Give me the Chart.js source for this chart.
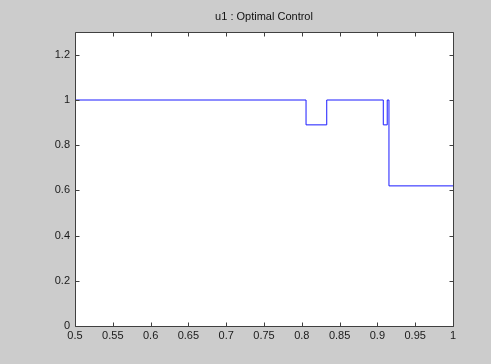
<!DOCTYPE html>
<html>
<head>
<meta charset="utf-8">
<script src="https://cdn.jsdelivr.net/npm/chart.js@4/dist/chart.umd.min.js"></script>
<style>
  html, body { margin: 0; padding: 0; background: #cccccc; }
  #wrap { width: 491px; height: 364px; }
</style>
</head>
<body>
<div id="wrap"><canvas id="c" width="491" height="364"></canvas></div>
<script>
// Control signal u1: piecewise-constant, value held until the next switching time
const switchTimes = [0.5, 0.8056, 0.833, 0.9078, 0.913, 0.9153, 1.0];
const controlValues = [1.0, 0.89, 1.0, 0.89, 1.0, 0.62, 0.62];

const xTicks = [0.5, 0.55, 0.6, 0.65, 0.7, 0.75, 0.8, 0.85, 0.9, 0.95, 1];
const xTickLabels = ['0.5', '0.55', '0.6', '0.65', '0.7', '0.75', '0.8', '0.85', '0.9', '0.95', '1'];
const yTicks = [0, 0.2, 0.4, 0.6, 0.8, 1, 1.2];
const yTickLabels = ['0', '0.2', '0.4', '0.6', '0.8', '1', '1.2'];

const points = switchTimes.map((t, i) => ({ x: t, y: controlValues[i] }));

const FONT = { family: '"Liberation Sans", Arial, sans-serif', size: 11, weight: 'normal' };

// Figure background, white axes box, full frame and inward tick marks
const axesBox = {
  id: 'axesBox',
  beforeDraw(chart) {
    const { ctx, chartArea: a } = chart;
    ctx.save();
    ctx.fillStyle = '#cccccc';
    ctx.fillRect(0, 0, chart.width, chart.height);
    ctx.fillStyle = '#ffffff';
    ctx.fillRect(a.left, a.top, a.right - a.left, a.bottom - a.top);
    ctx.restore();
  },
  afterDraw(chart) {
    const { ctx, chartArea: a, scales } = chart;
    const L = Math.round(a.left) + 0.5, R = Math.round(a.right) + 0.5;
    const T = Math.round(a.top) + 0.5, B = Math.round(a.bottom) + 0.5;
    const len = 4;
    ctx.save();
    ctx.strokeStyle = '#404040';
    ctx.lineWidth = 1;
    ctx.beginPath();
    ctx.rect(L, T, R - L, B - T);
    xTicks.forEach(v => {
      const px = Math.round(scales.x.getPixelForValue(v)) + 0.5;
      ctx.moveTo(px, B); ctx.lineTo(px, B - len);
      ctx.moveTo(px, T); ctx.lineTo(px, T + len);
    });
    yTicks.forEach(v => {
      const py = Math.round(scales.y.getPixelForValue(v)) + 0.5;
      ctx.moveTo(L, py); ctx.lineTo(L + len, py);
      ctx.moveTo(R, py); ctx.lineTo(R - len, py);
    });
    ctx.stroke();
    ctx.restore();
  }
};

new Chart(document.getElementById('c'), {
  type: 'line',
  data: {
    datasets: [{
      data: points,
      stepped: 'before',
      borderColor: '#1a1aff',
      borderWidth: 1,
      pointRadius: 0,
      fill: false
    }]
  },
  options: {
    responsive: false,
    animation: false,
    layout: { padding: { left: 0, right: 38, top: 0, bottom: 0 } },
    plugins: {
      legend: { display: false },
      tooltip: { enabled: false },
      title: {
        display: true,
        fullSize: false,
        text: 'u1 : Optimal Control',
        color: '#111111',
        font: FONT,
        padding: { top: 10, bottom: 9 }
      }
    },
    scales: {
      x: {
        type: 'linear',
        min: 0.5,
        max: 1,
        afterBuildTicks: s => { s.ticks = xTicks.map(v => ({ value: v })); },
        afterFit: s => { s.height = 38; },
        ticks: {
          autoSkip: false,
          maxRotation: 0,
          padding: 3,
          color: '#1a1a1a',
          font: FONT,
          callback: (v) => xTickLabels[xTicks.findIndex(t => Math.abs(t - v) < 1e-9)]
        },
        grid: { display: false, drawTicks: false },
        border: { display: false }
      },
      y: {
        type: 'linear',
        min: 0,
        max: 1.3,
        afterBuildTicks: s => { s.ticks = yTicks.map(v => ({ value: v })); },
        afterFit: s => { s.width = 75; },
        ticks: {
          autoSkip: false,
          padding: 5,
          color: '#1a1a1a',
          font: FONT,
          callback: (v) => yTickLabels[yTicks.findIndex(t => Math.abs(t - v) < 1e-9)]
        },
        grid: { display: false, drawTicks: false },
        border: { display: false }
      }
    }
  },
  plugins: [axesBox]
});
</script>
</body>
</html>
